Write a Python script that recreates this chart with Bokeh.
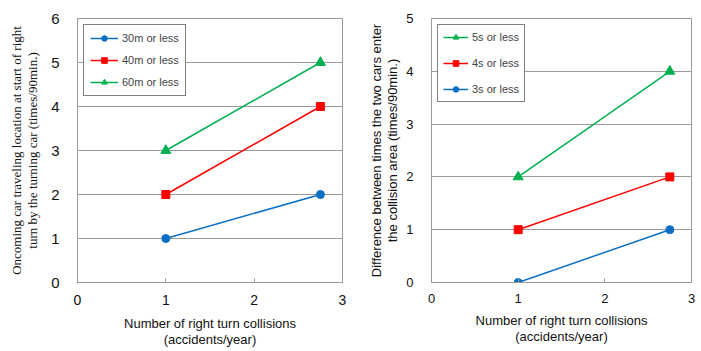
from bokeh.plotting import figure
from bokeh.models import Range1d, Legend, LegendItem, FixedTicker
from bokeh.layouts import row
from bokeh.embed import file_html
from bokeh.resources import INLINE

# ---- data ----
x_collisions = [1, 2.75]
left_30m = [1, 2]
left_40m = [2, 4]
left_60m = [3, 5]
right_5s = [2, 4]
right_4s = [1, 2]
right_3s = [0, 1]

x_ticks = [0, 1, 2, 3]
left_y_ticks = [0, 1, 2, 3, 4, 5, 6]
right_y_ticks = [0, 1, 2, 3, 4, 5]

left_names = ["30m or less", "40m or less", "60m or less"]
right_names = ["5s or less", "4s or less", "3s or less"]
x_title = "Number of right turn collisions\n(accidents/year)"
left_ylabel = "Oncoming car traveling location at start of right\nturn by the turning car (times/90min.)"
right_ylabel = "Difference between times the two cars enter\nthe collision area (times/90min.)"

BLUE = "#0a6fc2"
RED = "#ff0000"
GREEN = "#00b050"
GRID = "#9a9a9a"
SANS = "Liberation Sans"
SERIF = "Liberation Serif"


def make_fig(width, bl, br, bt, bb, ymax, yticks, ylabel, yfont, ytick_fs, xtick_fs,
             yl_standoff, xt_standoff, xl_standoff):
    p = figure(width=width, height=350, output_backend="svg", toolbar_location=None,
               x_range=Range1d(0, 3), y_range=Range1d(0, ymax),
               min_border_left=bl, min_border_right=br, min_border_top=bt, min_border_bottom=bb)
    p.outline_line_color = GRID
    p.xgrid.grid_line_color = None
    p.ygrid.grid_line_color = GRID
    p.ygrid.grid_line_width = 1
    p.xaxis.ticker = FixedTicker(ticks=x_ticks)
    p.yaxis.ticker = FixedTicker(ticks=yticks)
    for ax in (p.xaxis[0], p.yaxis[0]):
        ax.axis_line_color = GRID
        ax.minor_tick_line_color = None
        ax.major_label_text_font = SANS
        ax.major_label_text_color = "#111111"
        ax.axis_label_text_font_style = "normal"
        ax.axis_label_text_color = "#111111"
        ax.axis_label_text_font_size = "13px"
        ax.axis_label_text_line_height = 1.1
    p.yaxis.major_label_text_font_size = ytick_fs
    p.xaxis.major_label_text_font_size = xtick_fs
    p.yaxis.major_label_standoff = 12
    p.xaxis.major_label_standoff = xt_standoff
    p.xaxis.major_tick_in = 4
    p.xaxis.major_tick_out = 0
    p.xaxis.major_tick_line_color = GRID
    p.yaxis.major_tick_line_color = None
    p.yaxis.axis_label = ylabel
    p.yaxis.axis_label_text_font = yfont
    p.yaxis.axis_label_standoff = yl_standoff
    p.xaxis.axis_label = x_title
    p.xaxis.axis_label_text_font = SANS
    p.xaxis.axis_label_standoff = xl_standoff
    return p


def add_series(p, ys, color, marker, size):
    r1 = p.line(x_collisions, ys, line_color=color, line_width=1.5)
    r2 = p.scatter(x_collisions, ys, marker=marker, size=size, fill_color=color, line_color=color)
    return [r1, r2]


def style_legend(p, items, glyph_w, spacing, padding):
    leg = Legend(items=items, location="top_left", margin=6,
                 label_text_font=SANS, label_text_font_size="11px",
                 label_height=14, glyph_height=14, glyph_width=glyph_w,
                 label_standoff=4, spacing=spacing, padding=padding,
                 border_line_color="black", border_line_width=1,
                 background_fill_color="white", background_fill_alpha=1)
    p.add_layout(leg, "center")


# ---- left chart ----
p1 = make_fig(350, 77, 8, 17, 66, 6, left_y_ticks, left_ylabel, SERIF, "15px", "14px", 8, 12, 8)
r30 = add_series(p1, left_30m, BLUE, "circle", 8)
r40 = add_series(p1, left_40m, RED, "square", 8)
r60 = add_series(p1, left_60m, GREEN, "triangle", 10)
style_legend(p1, [LegendItem(label=left_names[0], renderers=r30),
                  LegendItem(label=left_names[1], renderers=r40),
                  LegendItem(label=left_names[2], renderers=r60)], 28, 8, 6)

# ---- right chart ----
p2 = make_fig(350, 81, 9, 18, 67, 5, right_y_ticks, right_ylabel, SANS, "13px", "13px", 3, 11, 7)
r5 = add_series(p2, right_5s, GREEN, "triangle", 10)
r4 = add_series(p2, right_4s, RED, "square", 8)
r3 = add_series(p2, right_3s, BLUE, "circle", 8)
style_legend(p2, [LegendItem(label=right_names[0], renderers=r5),
                  LegendItem(label=right_names[1], renderers=r4),
                  LegendItem(label=right_names[2], renderers=r3)], 25, 12, 5)

layout = row(p1, p2)
open("out.html", "w").write(file_html(layout, INLINE))
